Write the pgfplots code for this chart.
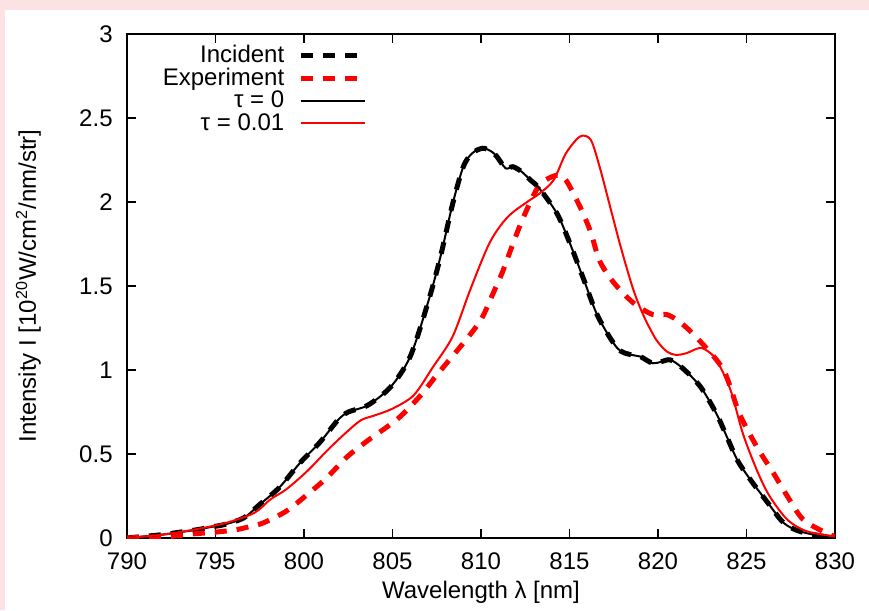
\documentclass[border=0pt]{standalone}
\usepackage{fontspec}
\setmainfont{Liberation Sans}
\usepackage{pgfplots}
\pgfplotsset{compat=1.18}
\usetikzlibrary{backgrounds}
\definecolor{slidepink}{RGB}{252,226,226}

\pgfplotstableread{
x y
790.0 0.00
791.0 0.01
792.0 0.02
793.0 0.035
794.0 0.05
794.7 0.065
795.5 0.08
796.6 0.12
797.5 0.20
798.6 0.30
799.8 0.45
800.9 0.57
801.9 0.70
802.5 0.75
803.6 0.79
804.9 0.90
806.0 1.08
807.0 1.40
807.7 1.67
808.4 1.99
809.0 2.21
809.5 2.29
810.1 2.32
810.6 2.30
810.9 2.27
811.4 2.20
811.8 2.21
812.3 2.18
812.8 2.13
813.3 2.08
814.3 1.93
815.0 1.76
815.8 1.54
816.6 1.32
817.7 1.13
818.5 1.09
819.0 1.08
819.7 1.04
820.2 1.05
820.7 1.06
821.4 1.01
822.4 0.90
823.3 0.74
823.9 0.60
824.5 0.46
825.2 0.35
826.2 0.21
827.1 0.09
828.0 0.04
829.3 0.01
830.0 0.00
}\incident

\pgfplotstableread{
x y
790.0 0.00
791.1 0.005
792.5 0.01
793.8 0.025
795.0 0.035
796.2 0.05
797.0 0.07
797.7 0.09
799.0 0.16
800.2 0.26
801.3 0.36
802.4 0.48
803.6 0.58
805.3 0.71
806.6 0.85
807.5 0.97
809.0 1.16
810.0 1.30
810.7 1.46
811.2 1.58
811.8 1.75
812.4 1.91
813.3 2.10
814.3 2.16
814.8 2.13
815.6 1.97
816.2 1.82
816.7 1.65
817.5 1.52
818.6 1.40
819.7 1.33
820.5 1.33
821.3 1.28
822.3 1.18
823.7 1.00
824.6 0.74
825.6 0.54
826.5 0.39
827.3 0.25
828.2 0.11
829.5 0.03
830.0 0.01
}\experiment

\pgfplotstableread{
x y
790.0 0.00
792.0 0.02
793.8 0.05
795.6 0.09
797.2 0.15
798.1 0.23
799.0 0.29
800.2 0.40
801.3 0.52
802.3 0.62
803.2 0.70
804.0 0.73
805.0 0.77
806.2 0.85
807.3 1.02
808.4 1.20
809.4 1.48
810.5 1.76
811.5 1.91
812.6 2.00
813.3 2.05
814.1 2.13
814.8 2.29
815.6 2.39
816.2 2.37
816.7 2.21
817.3 1.97
817.9 1.73
818.6 1.48
819.2 1.32
819.9 1.18
820.5 1.11
821.0 1.09
821.6 1.10
822.3 1.13
822.7 1.12
823.3 1.06
824.1 0.88
824.8 0.62
825.6 0.40
826.3 0.25
827.3 0.11
828.4 0.04
830.0 0.01
}\tauone

\begin{document}
\fontsize{12}{14}\selectfont
\begin{tikzpicture}
\begin{axis}[
  scale only axis,
  width=354pt, height=252pt,
  xmin=790, xmax=830, ymin=0, ymax=3,
  xtick={790,795,...,830},
  ytick={0,0.5,...,3},
  tick align=inside,
  major tick length=4.5pt,
  axis line style={line width=0.6pt},
  every tick/.style={black, line width=0.6pt},
  /pgf/number format/assume math mode=true,
  xticklabel style={yshift=-3pt},
  yticklabel style={xshift=-3pt},
  xlabel={Wavelength λ [nm]},
  ylabel={Intensity I [10\textsuperscript{20}W/cm\textsuperscript{2}/nm/str]},
  xlabel style={yshift=2.5pt},
  ylabel style={yshift=11pt},
  legend style={at={(0.036,0.995)}, anchor=north west, draw=none, fill=none,
    row sep=-3pt, /tikz/column sep=5pt},
  legend cell align=right,
  legend plot pos=right,
  legend image code/.code={\draw[#1] (0pt,0pt) -- (32pt,0pt);},
]
\coordinate (ll) at (rel axis cs:0,0);
\coordinate (ur) at (rel axis cs:1,1);
\addplot[black, line width=2.5pt, dash pattern=on 6pt off 5pt, smooth] table {\incident};
\addlegendentry{Incident}
\addplot[red, line width=2.5pt, dash pattern=on 6pt off 5pt, smooth] table {\experiment};
\addlegendentry{Experiment}
\addplot[black, line width=1pt, smooth] table {\incident};
\addlegendentry{τ = 0}
\addplot[red, line width=1pt, smooth] table {\tauone};
\addlegendentry{τ = 0.01}
\end{axis}
\begin{scope}[on background layer]
\fill[slidepink] ([xshift=-63.5pt,yshift=-36pt]ll) rectangle ([xshift=17pt,yshift=17pt]ur);
\fill[white] ([xshift=-61pt,yshift=-36pt]ll) rectangle ([xshift=17pt,yshift=12pt]ur);
\end{scope}
\pgfresetboundingbox
\path[use as bounding box] ([xshift=-63.5pt,yshift=-36pt]ll) rectangle ([xshift=17pt,yshift=17pt]ur);
\end{tikzpicture}
\end{document}
